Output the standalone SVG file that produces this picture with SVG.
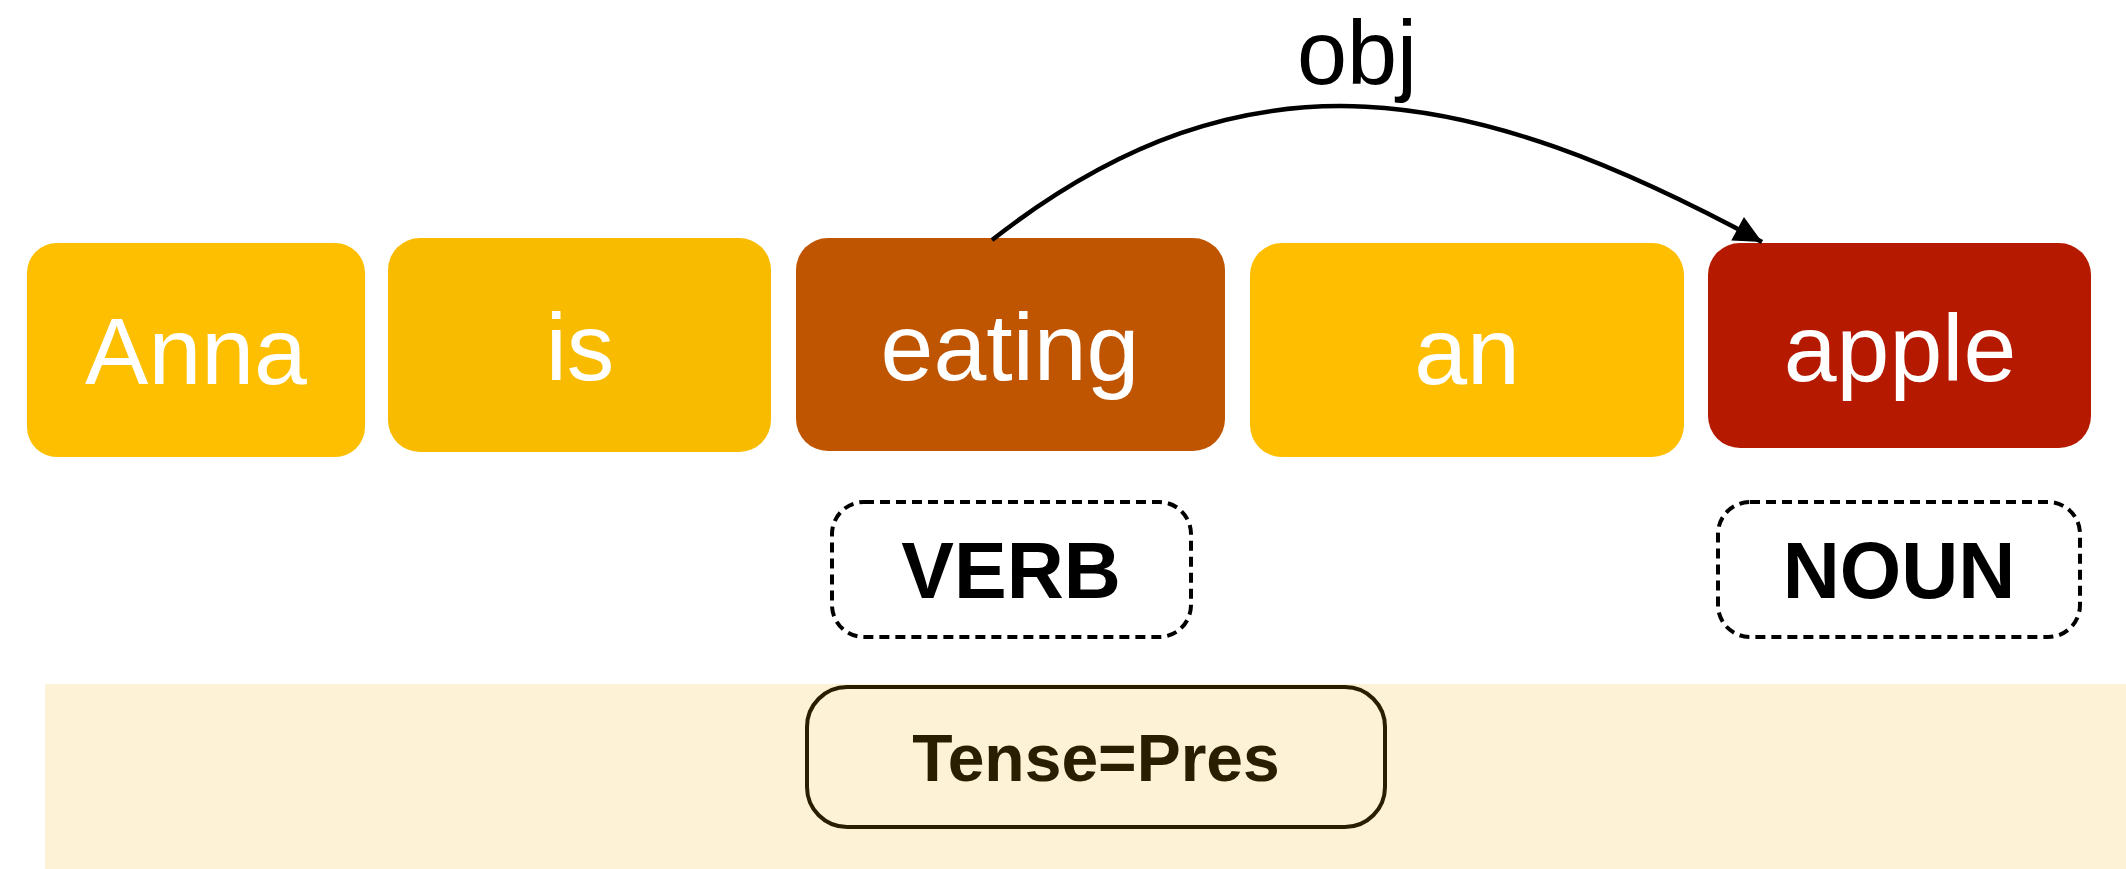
<svg xmlns="http://www.w3.org/2000/svg" width="2126" height="869" viewBox="0 0 2126 869">
<style>
.word{font-family:"Liberation Sans",Arial,sans-serif;font-size:95px;fill:#ffffff;text-anchor:middle}
.pos{font-family:"Liberation Sans",Arial,sans-serif;font-size:79px;font-weight:bold;fill:#000000;text-anchor:middle}
.dash{fill:none;stroke:#000000;stroke-width:4;stroke-dasharray:10 6}
.feat{font-family:"Liberation Sans",Arial,sans-serif;font-size:66px;font-weight:bold;fill:#2A1E00;text-anchor:middle}
.lbl{font-family:"Liberation Sans",Arial,sans-serif;font-size:90px;fill:#000000;text-anchor:middle}
</style>
<defs>
<marker id="arr" markerUnits="userSpaceOnUse" markerWidth="32" markerHeight="32" viewBox="-28 -14 30 28" refX="0" refY="0" orient="auto">
<path d="M0,0 L-26,-12.5 L-26,12.5 Z" fill="#000000"/>
</marker>
</defs>
<rect id="band" x="45" y="684" width="2081" height="185" fill="#FDF1D6"/>
<g id="node-anna"><rect x="27" y="243" width="338" height="214" rx="30" fill="#FDBF00"/><text class="word" x="196" y="384">Anna</text></g>
<g id="node-is"><rect x="388" y="238" width="383" height="214" rx="32" fill="#F9BB00"/><text class="word" x="580" y="380">is</text></g>
<g id="node-eating"><rect x="796" y="238" width="429" height="213" rx="32" fill="#BF5500"/><text class="word" x="1010" y="380">eating</text></g>
<g id="node-an"><rect x="1250" y="243" width="434" height="214" rx="32" fill="#FFBF00"/><text class="word" x="1467" y="384">an</text></g>
<g id="node-apple"><rect x="1708" y="243" width="383" height="205" rx="32" fill="#B51A00"/><text class="word" x="1900" y="381">apple</text></g>
<g id="pos-verb"><rect class="dash" x="832" y="502" width="359" height="135" rx="32"/><text class="pos" x="1011" y="598" font-size="78">VERB</text></g>
<g id="pos-noun"><rect class="dash" x="1718" y="502" width="362" height="135" rx="32"/><text class="pos" x="1899" y="598">NOUN</text></g>
<g id="feat-tense"><rect x="807" y="687" width="578" height="140" rx="40" fill="none" stroke="#2A1E00" stroke-width="4"/><text class="feat" x="1096" y="781">Tense=Pres</text></g>
<g id="connectors">
<path d="M992,240 C1250,38 1474,86 1762,242" fill="none" stroke="#000000" stroke-width="4.5" marker-end="url(#arr)"/>
<text class="lbl" x="1357" y="84">obj</text>
</g>
</svg>
